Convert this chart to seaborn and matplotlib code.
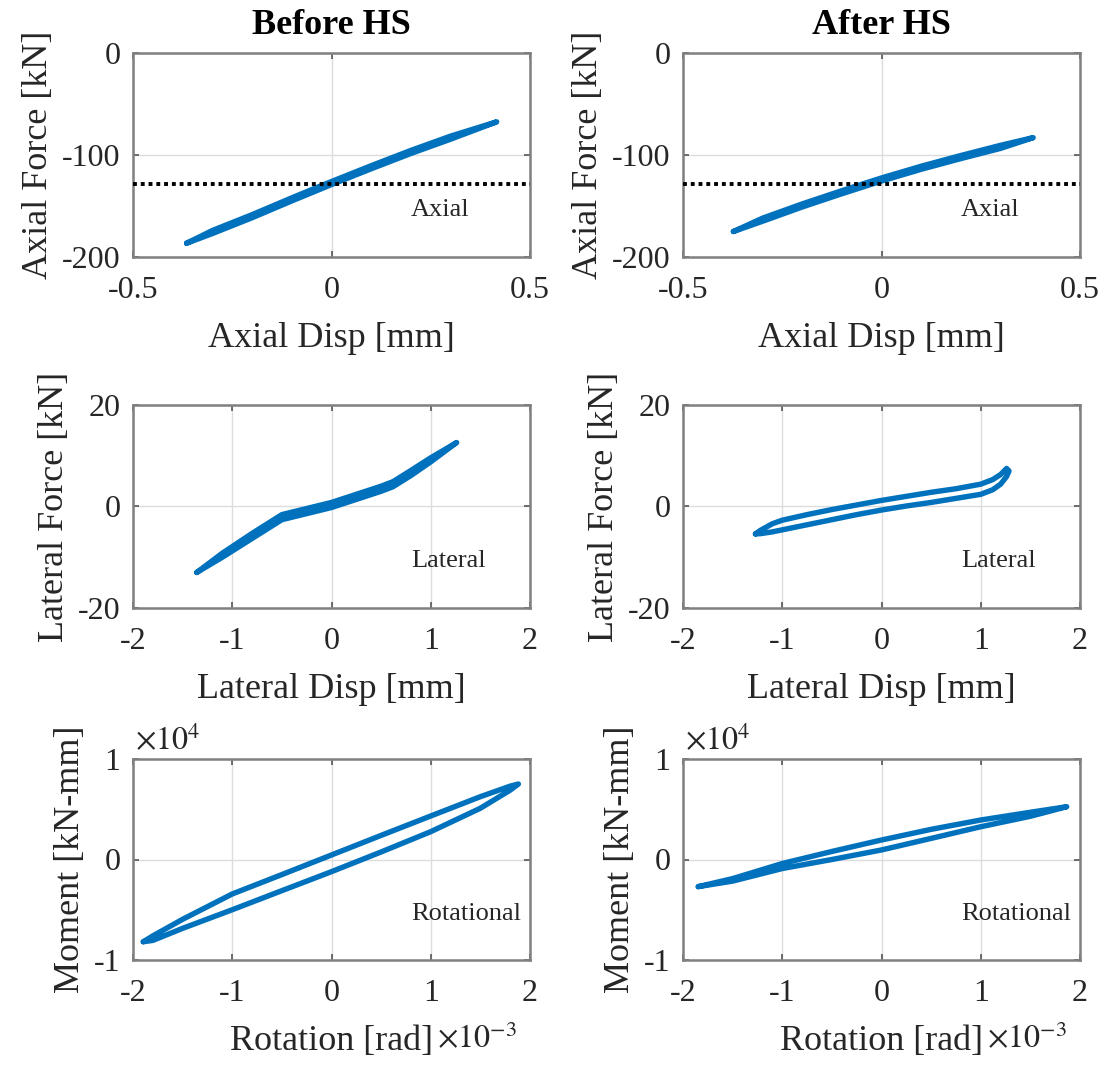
import matplotlib
matplotlib.use("Agg")
import matplotlib.pyplot as plt
import numpy as np
import pandas as pd
import seaborn as sns
from matplotlib.ticker import FixedLocator, FuncFormatter

# ---------------- hysteresis loops (lower = loading branch, upper = unloading branch)
# Axial, before HS  [mm, kN]
axial_disp_before = [-0.365, -0.3, -0.2, -0.1, 0.0, 0.1, 0.2, 0.3, 0.416]
axial_lower_before = [-186.5, -177.0, -161.5, -145.0, -129.0, -113.5, -98.5, -84.5, -67.5]
axial_upper_before = [-186.5, -174.0, -158.5, -142.0, -126.0, -110.5, -95.5, -81.5, -67.5]

# Axial, after HS  [mm, kN]
axial_disp_after = [-0.373, -0.3, -0.2, -0.1, 0.0, 0.1, 0.2, 0.3, 0.382]
axial_lower_after = [-175.0, -165.0, -151.0, -138.0, -125.5, -114.0, -103.5, -93.5, -83.0]
axial_upper_after = [-175.0, -162.0, -148.0, -135.0, -122.5, -111.0, -100.5, -90.5, -83.0]

# Reference axial load level  [kN]
axial_ref_load = -128.0

# Lateral, before HS  [mm, kN]
lat_disp_before = [-1.358, -1.1, -0.8, -0.5, -0.25, 0.0, 0.25, 0.5, 0.62, 0.8, 1.0, 1.261]
lat_lower_before = [-13.0, -10.0, -6.3, -2.6, -1.4, -0.2, 1.4, 3.0, 3.9, 6.1, 8.8, 12.6]
lat_upper_before = [-13.0, -9.2, -5.3, -1.6, -0.4, 0.8, 2.4, 4.0, 4.9, 7.1, 9.6, 12.6]

# Lateral, after HS  [mm, kN]
lat_disp_after = [-1.27, -1.22, -1.1, -1.0, -0.75, -0.5, -0.25, 0.0, 0.25, 0.5, 0.75, 1.0, 1.12, 1.2, 1.26, 1.285]
lat_lower_after = [-5.4, -5.35, -5.0, -4.6, -3.6, -2.6, -1.6, -0.7, 0.1, 0.8, 1.6, 2.4, 3.3, 4.4, 5.9, 7.0]
lat_upper_after = [-5.4, -4.7, -3.4, -2.7, -1.6, -0.6, 0.3, 1.2, 2.0, 2.8, 3.5, 4.4, 5.3, 6.3, 7.5, 7.0]

# Rotational, before HS  [rad, kN-mm]
rot_before = [-1.896e-3, -1.8e-3, -1.5e-3, -1.0e-3, -0.5e-3, 0.0, 0.5e-3, 1.0e-3, 1.5e-3, 1.8e-3, 1.883e-3]
mom_lower_before = [-8180, -8050, -6850, -5000, -3100, -1210, 750, 2770, 5100, 6900, 7510]
mom_upper_before = [-8180, -7600, -5950, -3430, -1500, 450, 2400, 4330, 6250, 7300, 7510]

# Rotational, after HS  [rad, kN-mm]
rot_after = [-1.846e-3, -1.5e-3, -1.0e-3, -0.5e-3, 0.0, 0.5e-3, 1.0e-3, 1.5e-3, 1.866e-3]
mom_lower_after = [-2700, -2150, -900, 0, 950, 2100, 3260, 4300, 5250]
mom_upper_after = [-2700, -1900, -400, 800, 1940, 3000, 3930, 4700, 5250]

col_titles = ["Before HS", "After HS"]
loop_names = ["Axial", "Lateral", "Rotational"]
x_labels = ["Axial Disp [mm]", "Lateral Disp [mm]", "Rotation [rad]"]
y_labels = ["Axial Force [kN]", "Lateral Force [kN]", "Moment [kN-mm]"]

x_ticks = [[-0.5, 0.0, 0.5], [-2, -1, 0, 1, 2], [-2e-3, -1e-3, 0.0, 1e-3, 2e-3]]
y_ticks = [[-200, -100, 0], [-20, 0, 20], [-1e4, 0.0, 1e4]]

loops = [
    [(axial_disp_before, axial_lower_before, axial_upper_before),
     (axial_disp_after, axial_lower_after, axial_upper_after)],
    [(lat_disp_before, lat_lower_before, lat_upper_before),
     (lat_disp_after, lat_lower_after, lat_upper_after)],
    [(rot_before, mom_lower_before, mom_upper_before),
     (rot_after, mom_lower_after, mom_upper_after)],
]

# ---------------- style
sns.set_theme(style="white")
plt.rcParams["font.family"] = ["Liberation Serif", "DejaVu Serif"]
plt.rcParams["mathtext.fontset"] = "stix"
plt.rcParams["axes.unicode_minus"] = False

BLUE = "#0072BD"
TEXT = "#262626"
SPINE = "#808080"

fig = plt.figure(figsize=(11.05, 10.69), dpi=100)

W, H = 1105.0, 1069.0
col_left = [133, 683]
ax_w = 397
rows = [(53, 257), (405, 608), (759, 960)]


def loop_frame(x, lower, upper):
    xs = list(x) + list(x[::-1])
    ys = list(lower) + list(upper[::-1])
    return pd.DataFrame({"x": xs, "y": ys})


def scaled(factor):
    return FuncFormatter(lambda v, p: f"{v / factor:g}")


for r in range(3):
    top, bot = rows[r]
    for c in range(2):
        ax = fig.add_axes([col_left[c] / W, 1 - bot / H, ax_w / W, (bot - top) / H])
        x, lo, up = loops[r][c]
        df = loop_frame(x, lo, up)
        sns.lineplot(data=df, x="x", y="y", sort=False, estimator=None,
                     color=BLUE, lw=3.9, ax=ax,
                     solid_joinstyle="round", solid_capstyle="round", zorder=3)

        if r == 0:
            ax.axhline(axial_ref_load, color="black", lw=2.8, dashes=(1, 1),
                       dash_capstyle="butt", zorder=4)

        xt, yt = x_ticks[r], y_ticks[r]
        ax.set_xlim(xt[0], xt[-1])
        ax.set_ylim(yt[0], yt[-1])
        ax.xaxis.set_major_locator(FixedLocator(xt))
        ax.yaxis.set_major_locator(FixedLocator(yt))
        if r == 2:
            ax.xaxis.set_major_formatter(scaled(1e-3))
            ax.yaxis.set_major_formatter(scaled(1e4))
        else:
            ax.xaxis.set_major_formatter(scaled(1))
            ax.yaxis.set_major_formatter(scaled(1))

        ax.grid(True, color="#dcdcdc", lw=1.0, zorder=0)
        for s in ax.spines.values():
            s.set_color(SPINE)
            s.set_linewidth(1.8)
        ax.tick_params(direction="in", length=4, width=1.2, color="#555555",
                       top=True, right=True, bottom=True, left=True,
                       labelsize=23, labelcolor=TEXT)
        ax.tick_params(axis="x", pad=14)
        ax.tick_params(axis="y", pad=9)

        ax.set_xlabel(x_labels[r], fontsize=26, color=TEXT, labelpad=12)
        ax.set_ylabel(y_labels[r], fontsize=26, color=TEXT, labelpad=5)

        ax.text(0.70, 0.20, loop_names[r], transform=ax.transAxes,
                ha="left", va="baseline", fontsize=19, color=TEXT)

        if r == 0:
            ax.set_title(col_titles[c], fontsize=26, fontweight="bold",
                         color="black", pad=14)
        if r == 2:
            ax.text(0.005, 1.01, r"$\times10^{4}$", transform=ax.transAxes,
                    ha="left", va="bottom", fontsize=23, color=TEXT)
            ax.annotate(r"$\times10^{-3}$", xy=(1, 0), xycoords=ax.xaxis.label,
                        xytext=(3, 2), textcoords="offset points",
                        ha="left", va="bottom", fontsize=23, color=TEXT)

fig.savefig("out.png", dpi=100)
